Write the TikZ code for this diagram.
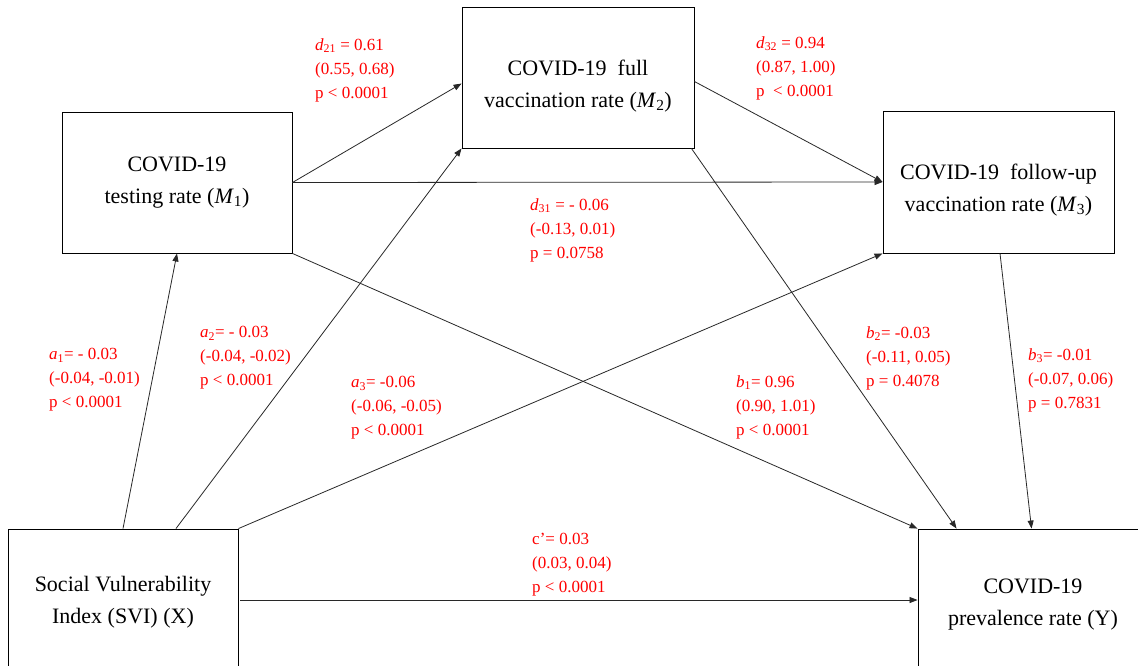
\documentclass[tikz,border=0pt]{standalone}
\usepackage{fontspec}
\setmainfont{Liberation Serif}
\usetikzlibrary{arrows.meta}
\definecolor{lblred}{RGB}{255,0,0}
\definecolor{lineg}{RGB}{40,40,40}
\begin{document}
\begin{tikzpicture}[x=1pt,y=-1pt,
 var/.style={draw=black,line width=0.9pt,minimum width=230pt,minimum height=141pt,inner sep=0pt,align=center,font=\fontsize{22}{32}\selectfont},
 conn/.style={draw=lineg,line width=0.8pt,-{Triangle[length=8pt,width=6pt]}},
 coef/.style={text=lblred,anchor=north west,inner sep=0pt,align=left,font=\fontsize{17}{24}\selectfont}]
\useasboundingbox (0,0) rectangle (1138,665);
\fill[white] (0,0) rectangle (1138,665);
% variables
\node[var] (M1) at (177,182.5) {COVID-19\\testing rate (\textit{M}\textsubscript{1})};
\node[var,minimum width=232pt] (M2) at (578,77.5) {\rule{0pt}{33pt}COVID-19\hspace{0.5em}full\\vaccination rate (\textit{M}\textsubscript{2})};
\node[var,minimum width=231pt,minimum height=142pt] (M3) at (998.5,182) {\rule{0pt}{32pt}COVID-19\hspace{0.5em}follow-up\\vaccination rate (\textit{M}\textsubscript{3})};
\node[var,minimum height=146pt] (X) at (123,602) {Social Vulnerability\\Index (SVI) (X)};
\node[var,minimum height=146pt] (Y) at (1033,602) {\rule{0pt}{20pt}COVID-19\\prevalence rate (Y)};
% connectors
\draw[conn] (X.north) -- (M1.south);
\draw[conn] ([xshift=53pt]X.north) -- (M2.south west);
\draw[conn] (X.north east) -- (M3.south west);
\draw[conn] ([yshift=2pt,xshift=2pt]X.east) -- ([yshift=2pt]Y.west);
\draw[conn] (M1.east) -- ([yshift=-6pt]M2.west);
\draw[conn] (M1.east) -- (M3.west);
\draw[conn] (M1.south east) -- (Y.north west);
\draw[conn] ([yshift=-4pt]M2.east) -- (M3.west);
\draw[conn] ([xshift=-3pt]M2.south east) -- ([xshift=39pt]Y.north west);
\draw[conn] ([xshift=1.5pt]M3.south) -- ([xshift=114pt]Y.north west);
% coefficients
\node[coef] (d21) at (315,38) {\textit{d}\textsubscript{21} = 0.61\\(0.55, 0.68)\\p < 0.0001};
\node[coef] (d32) at (756,36) {\textit{d}\textsubscript{32} = 0.94\\(0.87, 1.00)\\p\ \ < 0.0001};
\node[coef] (d31) at (530,198) {\textit{d}\textsubscript{31} = - 0.06\\(-0.13, 0.01)\\p = 0.0758};
\node[coef] (a1) at (49,348) {\textit{a}\textsubscript{1}= - 0.03\\(-0.04, -0.01)\\p < 0.0001};
\node[coef] (a2) at (200,326) {\textit{a}\textsubscript{2}= - 0.03\\(-0.04, -0.02)\\p < 0.0001};
\node[coef] (a3) at (351,376) {\textit{a}\textsubscript{3}= -0.06\\(-0.06, -0.05)\\p < 0.0001};
\node[coef] (b1) at (736,375) {\textit{b}\textsubscript{1}= 0.96\\(0.90, 1.01)\\p < 0.0001};
\node[coef] (b2) at (866,326) {\textit{b}\textsubscript{2}= -0.03\\(-0.11, 0.05)\\p = 0.4078};
\node[coef] (b3) at (1028,348) {\textit{b}\textsubscript{3}= -0.01\\(-0.07, 0.06)\\p = 0.7831};
\node[coef] (cp) at (532,533) {c’= 0.03\\(0.03, 0.04)\\p < 0.0001};
\end{tikzpicture}
\end{document}
